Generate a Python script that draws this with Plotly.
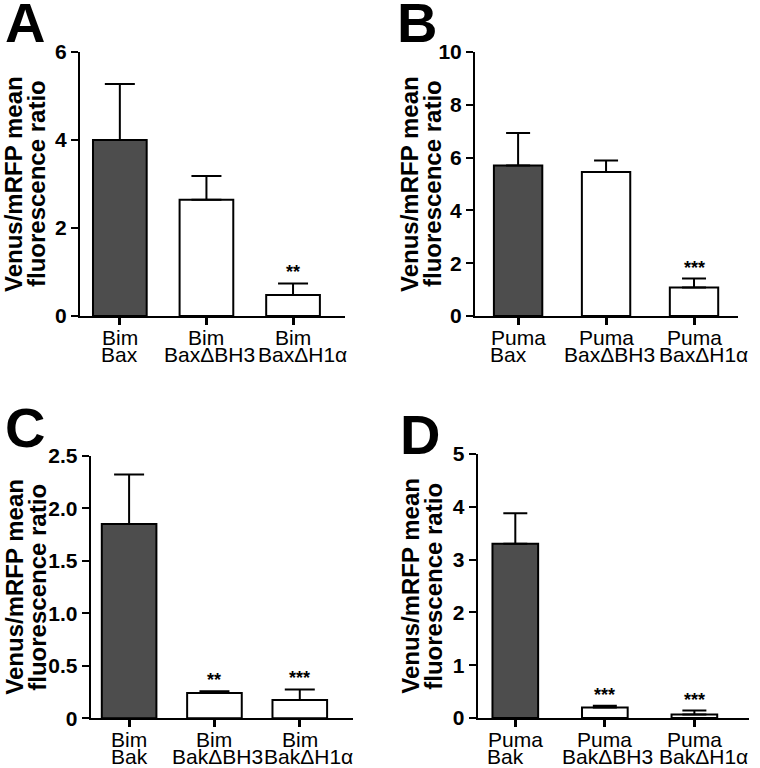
import plotly.graph_objects as go

# ---------------- data ----------------
a_line1 = ["Bim", "Bim", "Bim"]
a_line2 = ["Bax", "BaxΔBH3", "BaxΔH1α"]
a_means = [4.0, 2.64, 0.48]
a_sem = [1.27, 0.54, 0.26]
a_sig = ["", "", "**"]
a_tickvals = [0, 2, 4, 6]
a_ticktext = ["0", "2", "4", "6"]

b_line1 = ["Puma", "Puma", "Puma"]
b_line2 = ["Bax", "BaxΔBH3", "BaxΔH1α"]
b_means = [5.70, 5.45, 1.08]
b_sem = [1.23, 0.44, 0.34]
b_sig = ["", "", "***"]
b_tickvals = [0, 2, 4, 6, 8, 10]
b_ticktext = ["0", "2", "4", "6", "8", "10"]

c_line1 = ["Bim", "Bim", "Bim"]
c_line2 = ["Bak", "BakΔBH3", "BakΔH1α"]
c_means = [1.85, 0.24, 0.175]
c_sem = [0.47, 0.017, 0.10]
c_sig = ["", "**", "***"]
c_tickvals = [0, 0.5, 1.0, 1.5, 2.0, 2.5]
c_ticktext = ["0", "0.5", "1.0", "1.5", "2.0", "2.5"]

d_line1 = ["Puma", "Puma", "Puma"]
d_line2 = ["Bak", "BakΔBH3", "BakΔH1α"]
d_means = [3.30, 0.20, 0.065]
d_sem = [0.58, 0.03, 0.075]
d_sig = ["", "***", "***"]
d_tickvals = [0, 1, 2, 3, 4, 5]
d_ticktext = ["0", "1", "2", "3", "4", "5"]

panel_letters = ["A", "B", "C", "D"]
y_title_line1 = "Venus/mRFP mean"
y_title_line2 = "fluorescence ratio"
bar_colors = ["#4d4d4d", "white", "white"]

# ---------------- layout ----------------
W, H = 760, 768
FONT = "Liberation Sans, Arial, sans-serif"

def px_x(p):
    return p / W

def px_y(p):
    return 1 - p / H

panels = [
    dict(l1=a_line1, l2=a_line2, m=a_means, e=a_sem, s=a_sig, tv=a_tickvals, tt=a_ticktext,
         xd=(80, 345), yd=(52, 316), xr=[-0.46, 2.6], yr=[0, 6], bw=0.62, cap=15,
         toff=-66, letter_pos=(25, 22.5), l2dx=[0, 3, 9]),
    dict(l1=b_line1, l2=b_line2, m=b_means, e=b_sem, s=b_sig, tv=b_tickvals, tt=b_ticktext,
         xd=(475, 738), yd=(52, 316), xr=[-0.49, 2.5], yr=[0, 10], bw=0.55, cap=12,
         toff=-65, letter_pos=(417.5, 22.5), l2dx=[-10, 3, 9]),
    dict(l1=c_line1, l2=c_line2, m=c_means, e=c_sem, s=c_sig, tv=c_tickvals, tt=c_ticktext,
         xd=(90.7, 352.7), yd=(455.7, 718.3), xr=[-0.45, 2.62], yr=[0, 2.5], bw=0.64, cap=15,
         toff=-77, letter_pos=(25, 427), l2dx=[0, 3, 9]),
    dict(l1=d_line1, l2=d_line2, m=d_means, e=d_sem, s=d_sig, tv=d_tickvals, tt=d_ticktext,
         xd=(477.7, 749), yd=(454, 718), xr=[-0.42, 2.61], yr=[0, 5], bw=0.51, cap=12,
         toff=-68, letter_pos=(420, 434), l2dx=[-10, 3, 9]),
]

fig = go.Figure()
annotations = []
layout_axes = {}

for i, p in enumerate(panels):
    n = i + 1
    xa = "x" if n == 1 else f"x{n}"
    ya = "y" if n == 1 else f"y{n}"
    cats = [f"{a} {b}" for a, b in zip(p["l1"], p["l2"])]
    fig.add_trace(go.Bar(
        x=cats, y=p["m"], width=p["bw"], xaxis=xa, yaxis=ya,
        marker=dict(color=bar_colors, line=dict(color="black", width=2)),
        error_y=dict(type="data", array=p["e"], arrayminus=[0] * len(p["e"]),
                     symmetric=False, color="black", thickness=2, width=p["cap"]),
        showlegend=False, hoverinfo="skip",
    ))
    layout_axes[f"xaxis{'' if n == 1 else n}"] = dict(
        domain=[px_x(p["xd"][0]), px_x(p["xd"][1])], anchor=ya, range=p["xr"],
        type="category", categoryorder="array", categoryarray=cats,
        showline=True, linecolor="black", linewidth=2, showgrid=False, zeroline=False,
        ticks="outside", ticklen=7, tickwidth=2.5, tickcolor="black",
        showticklabels=False, fixedrange=True, automargin=False,
    )
    layout_axes[f"yaxis{'' if n == 1 else n}"] = dict(
        domain=[px_y(p["yd"][1]), px_y(p["yd"][0])], anchor=xa, range=p["yr"],
        tickvals=p["tv"], ticktext=p["tt"],
        showline=True, linecolor="black", linewidth=2, showgrid=False, zeroline=False,
        ticks="outside", ticklen=7, tickwidth=2, tickcolor="black",
        tickfont=dict(family=FONT, size=21, color="black", weight="bold"),
        fixedrange=True, automargin=False,
    )
    xref_dom = f"{xa} domain"
    yref_dom = f"{ya} domain"
    # category labels (two tight lines)
    for c, t1, t2, dx in zip(cats, p["l1"], p["l2"], p["l2dx"]):
        annotations.append(dict(x=c, xref=xa, y=0, yref=yref_dom, text=t1, showarrow=False,
                                yanchor="top", xanchor="center", yshift=-8,
                                font=dict(family=FONT, size=21, color="black")))
        annotations.append(dict(x=c, xref=xa, y=0, yref=yref_dom, text=t2, showarrow=False,
                                yanchor="top", xanchor="center", yshift=-25, xshift=dx,
                                font=dict(family=FONT, size=21, color="black")))
    # significance stars
    for c, mv, ev, s in zip(cats, p["m"], p["e"], p["s"]):
        if s:
            annotations.append(dict(x=c, xref=xa, y=mv + ev, yref=ya, text=s, showarrow=False,
                                    yanchor="bottom", xanchor="center", yshift=-1,
                                    font=dict(family=FONT, size=18, color="black", weight="bold")))
    # y-axis title (two tight lines)
    annotations.append(dict(x=0, xref=xref_dom, y=0.5, yref=yref_dom, text=y_title_line1,
                            showarrow=False, textangle=-90, xanchor="center", yanchor="middle",
                            xshift=p["toff"],
                            font=dict(family=FONT, size=24, color="black", weight="bold")))
    annotations.append(dict(x=0, xref=xref_dom, y=0.5, yref=yref_dom, text=y_title_line2,
                            showarrow=False, textangle=-90, xanchor="center", yanchor="middle",
                            xshift=p["toff"] + 23,
                            font=dict(family=FONT, size=24, color="black", weight="bold")))
    # panel letter
    lx, ly = p["letter_pos"]
    annotations.append(dict(x=px_x(lx), xref="paper", y=px_y(ly), yref="paper",
                            text=panel_letters[i], showarrow=False,
                            xanchor="center", yanchor="middle",
                            font=dict(family=FONT, size=56, color="black", weight="bold")))

fig.update_layout(
    width=W, height=H, margin=dict(l=0, r=0, t=0, b=0, autoexpand=False),
    paper_bgcolor="white", plot_bgcolor="white",
    showlegend=False, annotations=annotations,
    **layout_axes,
)

fig.write_html(
    "out.html",
    config={"displayModeBar": False},
    post_script="document.body.style.margin='0';document.body.style.padding='0';"
                "document.documentElement.style.overflow='hidden';",
)
